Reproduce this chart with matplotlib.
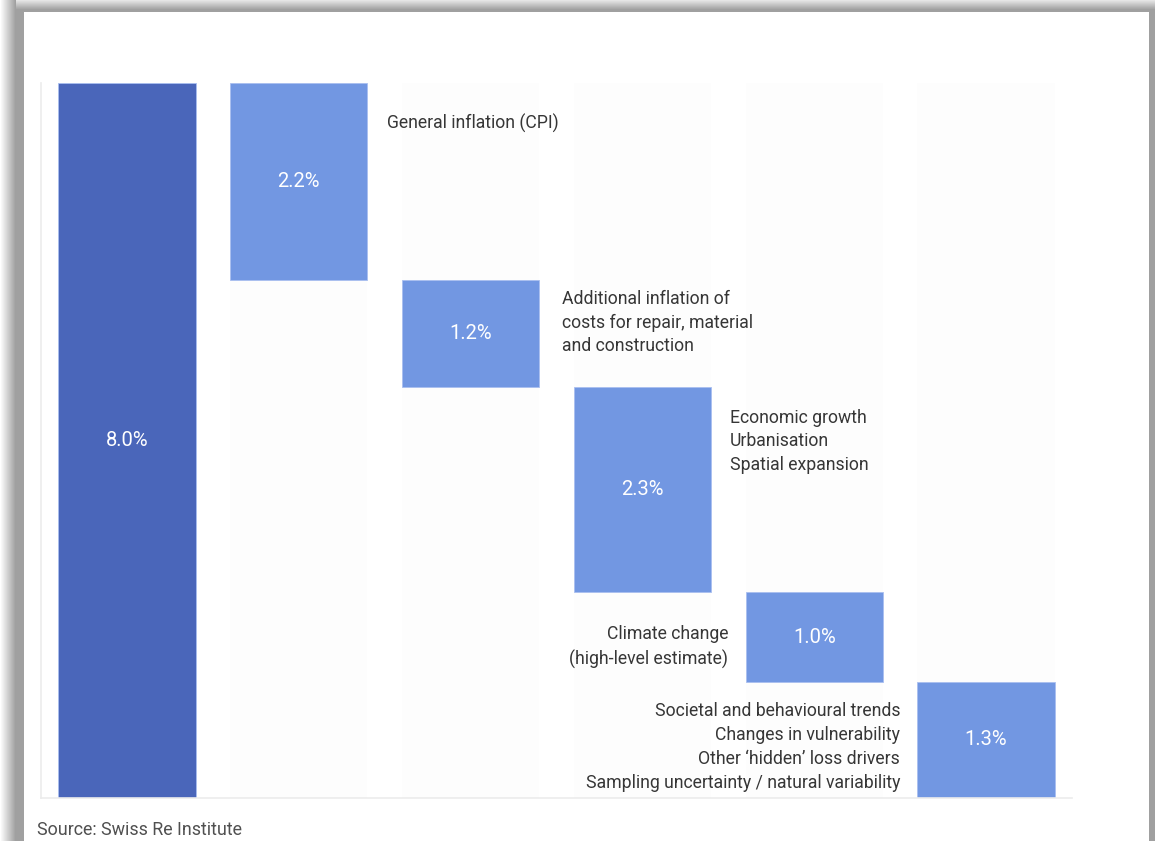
import numpy as np
import matplotlib.pyplot as plt

plt.rcParams['font.family'] = ['Roboto', 'DejaVu Sans']

# contributions to the total (percentage points)
steps = ["Total", "CPI", "Repair", "Growth", "Climate", "Other"]
values = [8.0, 2.2, 1.2, 2.3, 1.0, 1.3]
value_labels = ["8.0%", "2.2%", "1.2%", "2.3%", "1.0%", "1.3%"]

notes = [
    "General inflation (CPI)",
    "Additional inflation of\ncosts for repair, material\nand construction",
    "Economic growth\nUrbanisation\nSpatial expansion",
    "Climate change\n(high-level estimate)",
    "Societal and behavioural trends\nChanges in vulnerability\nOther \u2018hidden\u2019 loss drivers\nSampling uncertainty / natural variability",
]

DARK = "#4a66ba"
LIGHT = "#7297e2"
TEXT = "#363636"

W, H = 1155, 841
fig = plt.figure(figsize=(W / 100, H / 100), dpi=100)

# grey frame with soft shadow around a white panel
bg = np.ones((H, W, 3))
gray = 0.63
bg[:, :24] = gray
bg[:12, :] = gray
bg[:, 1149:] = gray
xs = np.arange(16)
bg[:, :16] = (1 - (1 - gray) * xs / 15)[None, :, None]
ys = np.arange(10)
top = (0.9 - (0.9 - gray) * ys / 9)[:, None, None]
bg[:10, 16:] = np.broadcast_to(top, (10, W - 16, 3))
fig.figimage(bg, 0, 0, zorder=-5)

ax = fig.add_axes([41 / W, 1 - 798 / H, (1072 - 41) / W, (798 - 83) / H])
ax.set_facecolor("none")
ax.set_zorder(2)

x = np.arange(len(values))
tops = [values[0]]
bottoms = [0.0]
level = values[0]
for v in values[1:]:
    tops.append(level)
    bottoms.append(level - v)
    level -= v
tops = np.array(tops)
bottoms = np.array(bottoms)
mids = (tops + bottoms) / 2

# faint column backdrops
ax.bar(x, values[0], width=0.8, color="#fdfdfd", zorder=0)
colors = [DARK] + [LIGHT] * (len(values) - 1)
ax.bar(x, tops - bottoms, bottom=bottoms, width=0.8, color=colors,
       edgecolor="#a9bff0", linewidth=0.6, zorder=2)

for xi, m, lab in zip(x, mids, value_labels):
    ax.text(xi, m, lab, ha="center", va="center", color="white",
            fontsize=14.5, zorder=3)

# driver descriptions beside the steps
note_kw = dict(va="center", color=TEXT, fontsize=12.7, linespacing=1.41)
ax.text(x[1] + 0.512, tops[1] - 0.45, notes[0], ha="left", **note_kw)
ax.text(x[2] + 0.53, mids[2] + 0.12, notes[1], ha="left", **note_kw)
ax.text(x[3] + 0.51, tops[3] - 0.61, notes[2], ha="left", **note_kw)
ax.text(x[4] - 0.5, mids[4] - 0.11, notes[3], ha="right", **note_kw)
ax.text(x[5] - 0.5, mids[5] - 0.08, notes[4], ha="right", **note_kw)

ax.set_xlim(-0.5, 5.5)
ax.set_ylim(0, 8.0)
ax.set_xticks([])
ax.set_yticks([])
for side in ["top", "right"]:
    ax.spines[side].set_visible(False)
ax.spines["left"].set_color("#ececec")
ax.spines["bottom"].set_color("#ececec")
ax.spines["left"].set_linewidth(1.2)
ax.spines["bottom"].set_linewidth(1.2)

fig.text(37 / W, 1 - 830 / H, "Source: Swiss Re Institute", ha="left",
         va="center", color="#505050", fontsize=12.9)

fig.savefig("out.png", dpi=100)
